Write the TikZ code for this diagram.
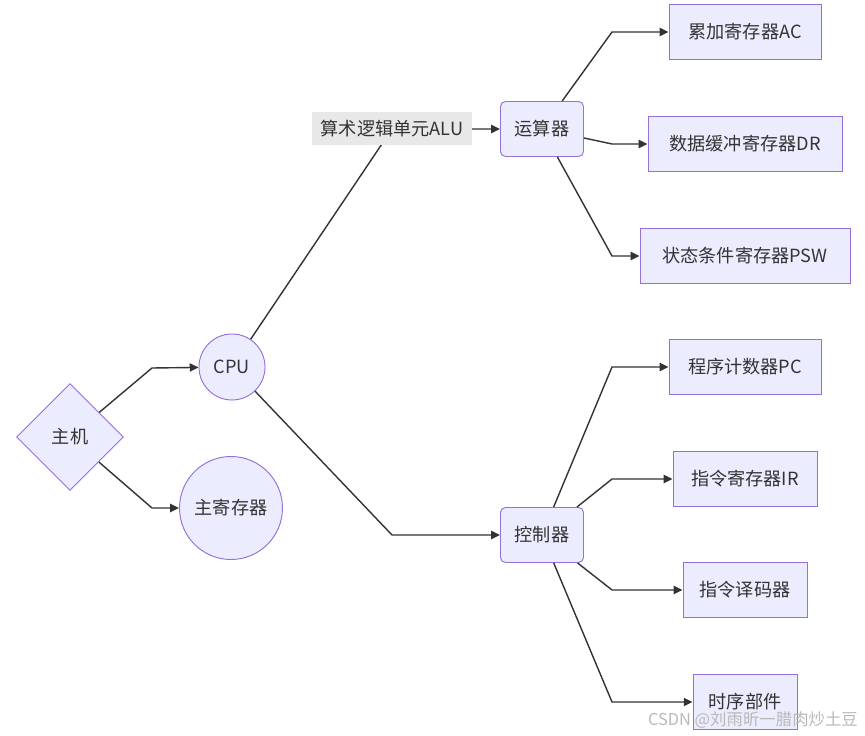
\documentclass[tikz,border=0pt]{standalone}
\usepackage{fontspec}
\setmainfont{Noto Sans CJK SC}
\usetikzlibrary{shapes.geometric,arrows.meta}
\definecolor{nodefill}{HTML}{ECECFF}
\definecolor{nodeline}{HTML}{9370DB}
\definecolor{edgeline}{HTML}{333333}
\definecolor{lblfill}{HTML}{E8E8E8}
\begin{document}
\begin{tikzpicture}[x=0.03cm,y=-0.03cm,
  every node/.style={font=\fontsize{15.5}{18}\selectfont,text=edgeline},
  shp/.style={draw=nodeline,fill=nodefill,line width=0.8pt},
  box/.style={shp,rectangle,minimum height=1.65cm,inner sep=0pt},
  rbox/.style={box,rounded corners=0.15cm,minimum width=2.49cm},
  ball/.style={shp,circle,inner sep=0pt},
  lbl/.style={fill=lblfill,minimum width=4.8cm,minimum height=0.99cm,inner sep=0pt},
  edge/.style={draw=edgeline,line width=1.2pt,-{Triangle[length=7.5pt,width=7pt]}}]
  \useasboundingbox (0,0) rectangle (865,736);

  % left part
  \node[shp,diamond,minimum width=3.21cm,minimum height=3.21cm,inner sep=0pt] (host) at (70,437) {主机};
  \node[ball,minimum size=1.98cm] (cpu) at (232,367) {CPU};
  \node[ball,minimum size=3.09cm] (mem) at (231,508) {主寄存器};

  % middle
  \node[rbox] (alu) at (542,129) {运算器};
  \node[rbox] (ctl) at (542,535) {控制器};

  % right boxes
  \node[box,minimum width=4.56cm] (ac) at (745,32) {累加寄存器AC};
  \node[box,minimum width=5.82cm] (dr) at (745,144) {数据缓冲寄存器DR};
  \node[box,minimum width=6.30cm] (psw) at (745,256) {状态条件寄存器PSW};
  \node[box,minimum width=4.56cm] (pc) at (745,367) {程序计数器PC};
  \node[box,minimum width=4.32cm] (ir) at (745,479) {指令寄存器IR};
  \node[box,minimum width=3.72cm] (id) at (745,590) {指令译码器};
  \node[box,minimum width=3.12cm] (tm) at (745,702) {时序部件};

  \draw[edge] (host) -- (152,368) -- (cpu);
  \draw[edge] (host) -- (152,508) -- (mem);
  \draw[edge] (cpu) -- (392,129) node[lbl] {算术逻辑单元ALU} -- (alu);
  \draw[edge] (cpu) -- (392,535) -- (ctl);

  \draw[edge] (alu) -- (612,32) -- (ac);
  \draw[edge] (alu) -- (612,144) -- (dr);
  \draw[edge] (alu) -- (612,256) -- (psw);
  \draw[edge] (ctl) -- (612,367) -- (pc);
  \draw[edge] (ctl) -- (612,479) -- (ir);
  \draw[edge] (ctl) -- (612,590) -- (id);
  \draw[edge] (ctl) -- (612,702) -- (tm);

  \node[anchor=east,text=gray!55,font=\fontsize{14}{16}\selectfont] (wm) at (862,720) {CSDN @刘雨昕一腊肉炒土豆};
\end{tikzpicture}
\end{document}
